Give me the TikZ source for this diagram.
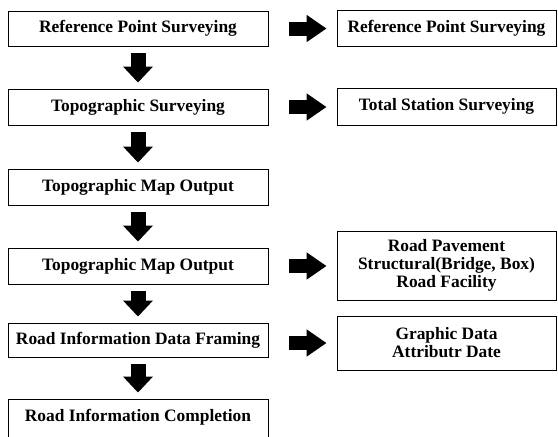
\documentclass[tikz,border=0pt]{standalone}
\usepackage{fontspec}
\setmainfont{Liberation Serif}
\usetikzlibrary{arrows.meta}
\begin{document}
\begin{tikzpicture}[x=1pt,y=-1pt,
  box/.style={draw, line width=0.9pt, inner sep=0pt, align=center,
    font=\bfseries\fontsize{17.4}{18}\selectfont},
  lbox/.style={box, minimum width=260pt},
  rbox/.style={box, minimum width=219pt},
  downarrow/.style={line width=15pt, -{Triangle[width=29pt,length=16pt]},
    shorten <=7pt, shorten >=6pt},
  rightarrow/.style={line width=14pt, -{Triangle[width=26pt,length=20pt]},
    shorten <=21pt, shorten >=10pt}]
\useasboundingbox (0,0) rectangle (558,437);
\clip (0,0) rectangle (558,437);

% main column
\node[lbox, minimum height=35pt] (b1) at (138,28.5) {Reference Point Surveying};
\node[lbox, minimum height=36pt] (b2) at (138,107) {Topographic Surveying};
\node[lbox, minimum height=36pt] (b3) at (138,187) {Topographic Map Output};
\node[lbox, minimum height=36pt] (b4) at (138,266) {Topographic Map Output};
\node[lbox, minimum height=34pt] (b5) at (138,340) {Road Information Data Framing};
\node[lbox, minimum height=60pt, text depth=28pt] (b6) at (138,429) {Road Information Completion};

% side column
\node[rbox, minimum height=36pt] (r1) at (446.5,28) {Reference Point Surveying};
\node[rbox, minimum height=37pt] (r2) at (446.5,106.5) {Total Station Surveying};
\node[rbox, minimum height=69pt] (r4) at (446.5,265.5) {Road Pavement\\Structural(Bridge, Box)\\Road Facility};
\node[rbox, minimum height=54pt] (r5) at (446.5,343) {Graphic Data\\Attributr Date};

% flow arrows
\draw[downarrow] (b1.south) -- (b2.north);
\draw[downarrow] (b2.south) -- (b3.north);
\draw[downarrow] (b3.south) -- (b4.north);
\draw[downarrow] (b4.south) -- (b5.north);
\draw[downarrow] (b5.south) -- (b6.north);

\draw[rightarrow] (b1.east) -- (b1.east -| r1.west);
\draw[rightarrow] (b2.east) -- (b2.east -| r2.west);
\draw[rightarrow] (b4.east) -- (b4.east -| r4.west);
\draw[rightarrow] (b5.east |- r5.west) -- (r5.west);
\end{tikzpicture}
\end{document}
